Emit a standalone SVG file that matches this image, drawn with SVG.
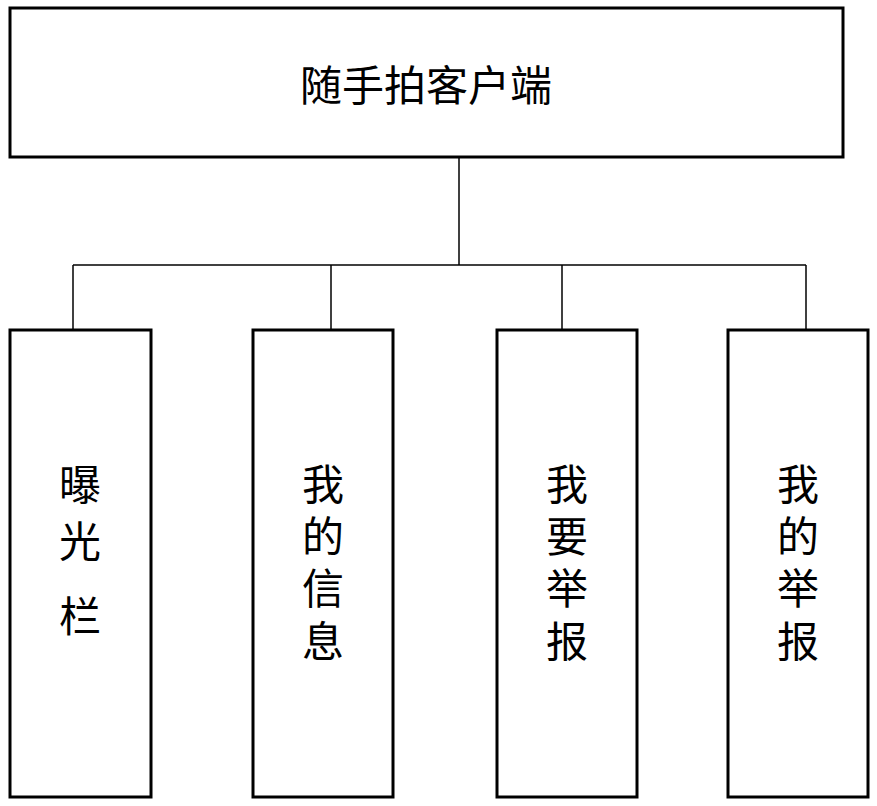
<svg xmlns="http://www.w3.org/2000/svg" width="877" height="806" viewBox="0 0 877 806">
<style>
.b{fill:#fff;stroke:#000;stroke-width:3}
.c line{stroke:#000;stroke-width:1.5}
text{font-family:"Liberation Serif","Noto Sans CJK SC",serif;font-size:42px;text-anchor:middle;fill:#000}
</style>
<rect width="877" height="806" fill="#fff"/>
<g class="c">
<line x1="459" y1="157" x2="459" y2="265"/>
<line x1="73" y1="265" x2="806" y2="265"/>
<line x1="73" y1="265" x2="73" y2="330"/>
<line x1="331" y1="265" x2="331" y2="330"/>
<line x1="562" y1="265" x2="562" y2="330"/>
<line x1="806" y1="265" x2="806" y2="330"/>
</g>
<g id="root"><rect class="b" x="10" y="8" width="833" height="149"/><text x="426" y="101">随手拍客户端</text></g>
<g id="n1"><rect class="b" x="10" y="330" width="141" height="467"/><text x="80" y="500">曝</text><text x="80" y="557">光</text><text x="80" y="632">栏</text></g>
<g id="n2"><rect class="b" x="253" y="330" width="140" height="467"/><text x="323" y="500">我</text><text x="323" y="552">的</text><text x="323" y="604">信</text><text x="323" y="657">息</text></g>
<g id="n3"><rect class="b" x="497" y="330" width="140" height="467"/><text x="567" y="500">我</text><text x="567" y="552">要</text><text x="567" y="604">举</text><text x="567" y="657">报</text></g>
<g id="n4"><rect class="b" x="728" y="330" width="140" height="467"/><text x="798" y="500">我</text><text x="798" y="552">的</text><text x="798" y="604">举</text><text x="798" y="657">报</text></g>
</svg>
